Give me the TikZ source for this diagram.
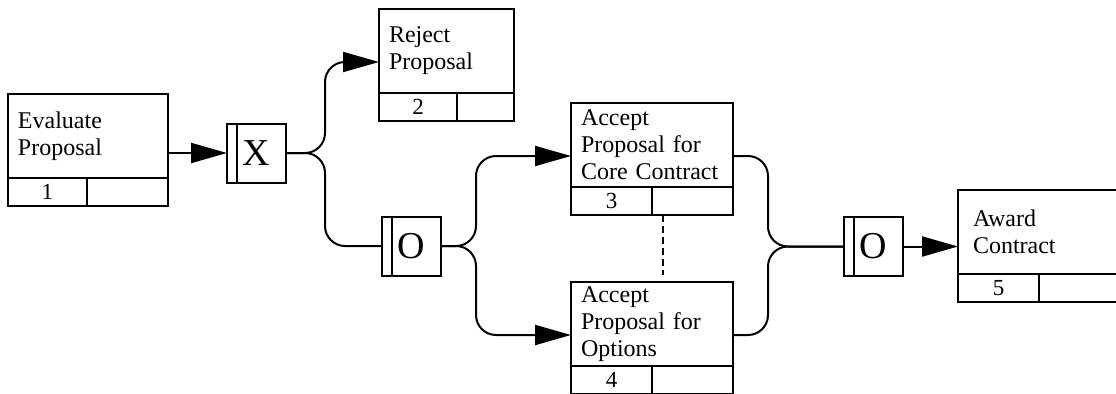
\documentclass[tikz,border=0pt]{standalone}
\usepackage{fontspec}
\setmainfont{Liberation Serif}
\usetikzlibrary{arrows.meta}

\begin{document}
\begin{tikzpicture}[x=0.5pt, y=-0.5pt, line width=1pt]
\tikzstyle{box}=[draw, anchor=north west, align=left, minimum height=42pt, inner xsep=5pt, inner ysep=0pt, outer sep=0pt, font=\fontsize{12}{13.5}\selectfont];
\tikzstyle{cell}=[draw, anchor=north west, minimum height=14pt, inner sep=0pt, outer sep=0pt, font=\fontsize{11.5}{11.5}\selectfont];
\tikzstyle{jct}=[draw, minimum size=29.5pt, inner sep=0pt, outer sep=0pt, font=\fontsize{19}{19}\selectfont,
  path picture={\draw ([xshift=5pt]path picture bounding box.north west) -- ([xshift=5pt]path picture bounding box.south west);}];
\tikzstyle{flow}=[-{Triangle[length=18pt,width=10pt]}];
\tikzstyle{link}=[rounded corners=10pt];
\clip (0,0) rectangle (1116,393);
% activity boxes
\node [box, text width=70pt] (b1) at (8,94) {Evaluate\\Proposal\\[-1ex]};
\node [cell, minimum width=39.5pt] (b1n) at (b1.south west) {1};
\node [cell, minimum width=40.5pt] (b1e) at (b1n.north east) {};
\node [box, text width=57.5pt] (b2) at (379,9) {Reject\\Proposal\\[-1ex]};
\node [cell, minimum width=39pt] (b2n) at (b2.south west) {2};
\node [cell, minimum width=28.5pt] (b2e) at (b2n.north east) {};
\node [box, text width=71pt] (b3) at (571,103) {Accept\\Proposal for\\Core Contract};
\node [cell, minimum width=40.5pt] (b3n) at (b3.south west) {3};
\node [cell, minimum width=40.5pt] (b3e) at (b3n.north east) {};
\node [box, text width=71pt] (b4) at (571,282) {Accept\\Proposal for\\Options};
\node [cell, minimum width=40.5pt] (b4n) at (b4.south west) {4};
\node [cell, minimum width=40.5pt] (b4e) at (b4n.north east) {};
\node [box, text width=67pt, inner xsep=7.5pt] (b5) at (958,190) {Award\\Contract\\[-1ex]};
\node [cell, minimum width=40.5pt] (b5n) at (b5.south west) {5};
\node [cell, minimum width=41.5pt] (b5e) at (b5n.north east) {};
% junctions
\node [jct] (X) at (256.5,153) {X};
\node [jct] (O1) at (411.5,246) {O};
\node [jct] (O2) at (873,246.5) {O};
\draw [flow] (X.west -| b1.east) -- (X.west);
\draw [link, flow] (X.east) -- ++(39,0) |- ([yshift=-5.5pt]b2.west);
\draw [link] (X.east) -- ++(39,0) |- (O1.west);
\draw [link, flow] (O1.east) -- ++(35,0) |- ([yshift=-5.5pt]b3.west);
\draw [link, flow] (O1.east) -- ++(35,0) |- ([yshift=-5.5pt]b4.west);
\draw [link] ([yshift=-5.5pt]b3.east) -- ++(35,0) |- (O2.west);
\draw [link] ([yshift=-5.5pt]b4.east) -- ++(35,0) |- (O2.west);
\draw [flow] (O2.east) -- (O2.east -| b5.west);
\draw [dash pattern=on 3.5pt off 2pt] ([xshift=5.5pt]b3e.south west) -- ([xshift=5.5pt, yshift=3.5pt]b4.north);
\end{tikzpicture}
\end{document}
